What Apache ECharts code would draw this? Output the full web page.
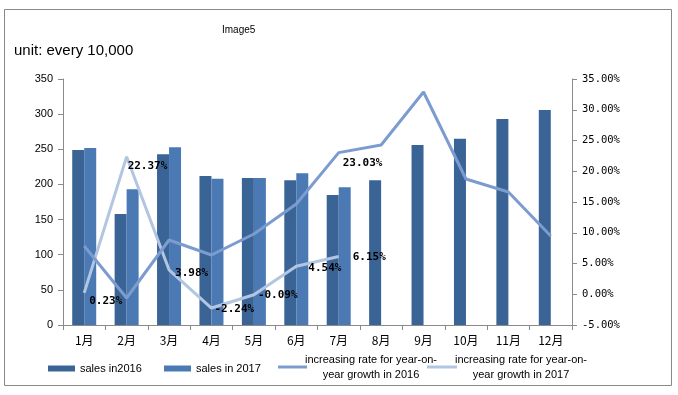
<!DOCTYPE html>
<html>
<head>
<meta charset="utf-8">
<script src="https://cdn.jsdelivr.net/npm/echarts@6/dist/echarts.min.js"></script>
<style>html,body{margin:0;padding:0;background:#fff;}#chart{width:678px;height:395px;}</style>
</head>
<body>
<div id="chart"></div>
<script>
var months = ['1月','2月','3月','4月','5月','6月','7月','8月','9月','10月','11月','12月'];
var sales2016 = [249, 158, 243, 212, 209, 206, 185, 206, 256, 265, 293, 306];
var sales2017 = [252, 193, 253, 208, 209, 216, 196, null, null, null, null, null];
var rate2016 = [7.85, -0.61, 8.82, 6.38, 9.80, 14.67, 23.03, 24.27, 32.89, 18.74, 16.63, 9.47];
var rate2017 = [0.23, 22.37, 3.98, -2.24, -0.09, 4.54, 6.15, null, null, null, null, null];
var leftTicks = {min: 0, max: 350, interval: 50};
var rightTicks = {min: -5, max: 35, interval: 5};
var seriesNames = ['sales in2016', 'sales in 2017', 'increasing rate for year-on-year growth in 2016', 'increasing rate for year-on-year growth in 2017'];
var legendLines = {
  'increasing rate for year-on-year growth in 2016': ['increasing rate for year-on-', 'year growth in 2016'],
  'increasing rate for year-on-year growth in 2017': ['increasing rate for year-on-', 'year growth in 2017']
};
var labeled2016 = [6];

// label placement tweaks (layout only)
var offsets2017 = [[0,8],[-4,9],[1,3],[-2,1],[-1,0],[7,2],[9,1]];
var offsets2016 = {6: [-1, 11]};

var C = {bar16: '#3b6496', bar17: '#4a79b4', line16: '#7c9ccf', line17: '#b2c5e1', axis: '#8a8a8a'};
var pct = function (v) { return v.toFixed(2) + '%'; };
var labelFont = {fontFamily: 'DejaVu Sans Mono', fontWeight: 'bold', fontSize: 11, color: '#000'};

var d16 = rate2016.map(function (v, i) {
  var o = {value: v};
  if (labeled2016.indexOf(i) >= 0) {
    o.label = Object.assign({show: true, position: 'right', distance: 5, offset: offsets2016[i], formatter: function (p) { return pct(p.value); }}, labelFont);
  }
  return o;
});
var d17 = rate2017.map(function (v, i) {
  if (v === null) return null;
  return {value: v, label: Object.assign({show: true, position: 'right', distance: 5, offset: offsets2017[i], formatter: function (p) { return pct(p.value); }}, labelFont)};
});

var chart = echarts.init(document.getElementById('chart'), null, {renderer: 'canvas'});
var baseLegend = {orient: 'horizontal', padding: 0, textStyle: {fontFamily: 'Liberation Sans', fontSize: 11, color: '#000'}};
function twoLine(name) {
  var l = legendLines[name];
  return '{a|' + l[0] + '}\n{a|' + l[1] + '}';
}
var richA = {a: {fontFamily: 'Liberation Sans', fontSize: 11, color: '#000', width: 118, align: 'center', lineHeight: 15}};

chart.setOption({
  animation: false,
  backgroundColor: '#fff',
  title: [
    {text: 'Image5', left: 222, top: 25, padding: 0, textStyle: {fontFamily: 'Liberation Sans', fontSize: 10, fontWeight: 'normal', color: '#000'}},
    {text: 'unit: every 10,000', left: 14, top: 43, padding: 0, textStyle: {fontFamily: 'Liberation Sans', fontSize: 15, fontWeight: 'normal', color: '#000'}}
  ],
  graphic: [{type: 'rect', shape: {x: 4.5, y: 9.5, width: 667, height: 376}, style: {fill: null, stroke: '#888', lineWidth: 1}, silent: true}],
  legend: [
    Object.assign({}, baseLegend, {data: [seriesNames[0]], left: 48, top: 363, itemWidth: 27, itemHeight: 6, icon: 'rect', itemGap: 0}),
    Object.assign({}, baseLegend, {data: [seriesNames[1]], left: 164, top: 363, itemWidth: 27, itemHeight: 6, icon: 'rect', itemGap: 0}),
    Object.assign({}, baseLegend, {data: [seriesNames[2]], left: 278, top: 354, itemWidth: 29, itemHeight: 3, icon: 'rect', itemGap: 0, formatter: twoLine, textStyle: {rich: richA}}),
    Object.assign({}, baseLegend, {data: [seriesNames[3]], left: 427, top: 354, itemWidth: 30, itemHeight: 3, icon: 'rect', itemGap: 0, formatter: twoLine, textStyle: {rich: richA}})
  ],
  grid: {left: 63, right: 106, top: 79, bottom: 70, containLabel: false, outerBoundsMode: 'none'},
  xAxis: {
    type: 'category', data: months, boundaryGap: true,
    axisLine: {show: true, lineStyle: {color: C.axis, width: 1}},
    axisTick: {show: true, alignWithLabel: false, inside: false, length: 5, lineStyle: {color: C.axis}},
    axisLabel: {margin: 9, fontFamily: 'Noto Sans CJK SC', fontSize: 12, color: '#000', interval: 0},
    splitLine: {show: false}
  },
  yAxis: [
    {
      type: 'value', position: 'left', min: leftTicks.min, max: leftTicks.max, interval: leftTicks.interval,
      axisLine: {show: true, lineStyle: {color: C.axis, width: 1}},
      axisTick: {show: true, inside: false, length: 5, lineStyle: {color: C.axis}},
      axisLabel: {margin: 10, fontFamily: 'Liberation Sans', fontSize: 11, color: '#000'},
      splitLine: {show: false}
    },
    {
      type: 'value', position: 'right', min: rightTicks.min, max: rightTicks.max, interval: rightTicks.interval,
      axisLine: {show: true, lineStyle: {color: C.axis, width: 1}},
      axisTick: {show: true, inside: false, length: 5, lineStyle: {color: C.axis}},
      axisLabel: {margin: 10, fontFamily: 'DejaVu Sans Mono', fontSize: 10.5, color: '#000', formatter: function (v) { return pct(v); }},
      splitLine: {show: false}
    }
  ],
  series: [
    {name: seriesNames[0], type: 'bar', data: sales2016, barWidth: 12, barGap: '0%', itemStyle: {color: C.bar16}, yAxisIndex: 0},
    {name: seriesNames[1], type: 'bar', data: sales2017, barWidth: 12, barGap: '0%', itemStyle: {color: C.bar17}, yAxisIndex: 0},
    {name: seriesNames[2], type: 'line', yAxisIndex: 1, data: d16, symbol: 'circle', symbolSize: 0, showSymbol: true, lineStyle: {color: C.line16, width: 3}, itemStyle: {color: C.line16}, z: 5},
    {name: seriesNames[3], type: 'line', yAxisIndex: 1, data: d17, symbol: 'circle', symbolSize: 0, showSymbol: true, connectNulls: false, lineStyle: {color: C.line17, width: 3}, itemStyle: {color: C.line17}, z: 4}
  ]
});
</script>
</body>
</html>
